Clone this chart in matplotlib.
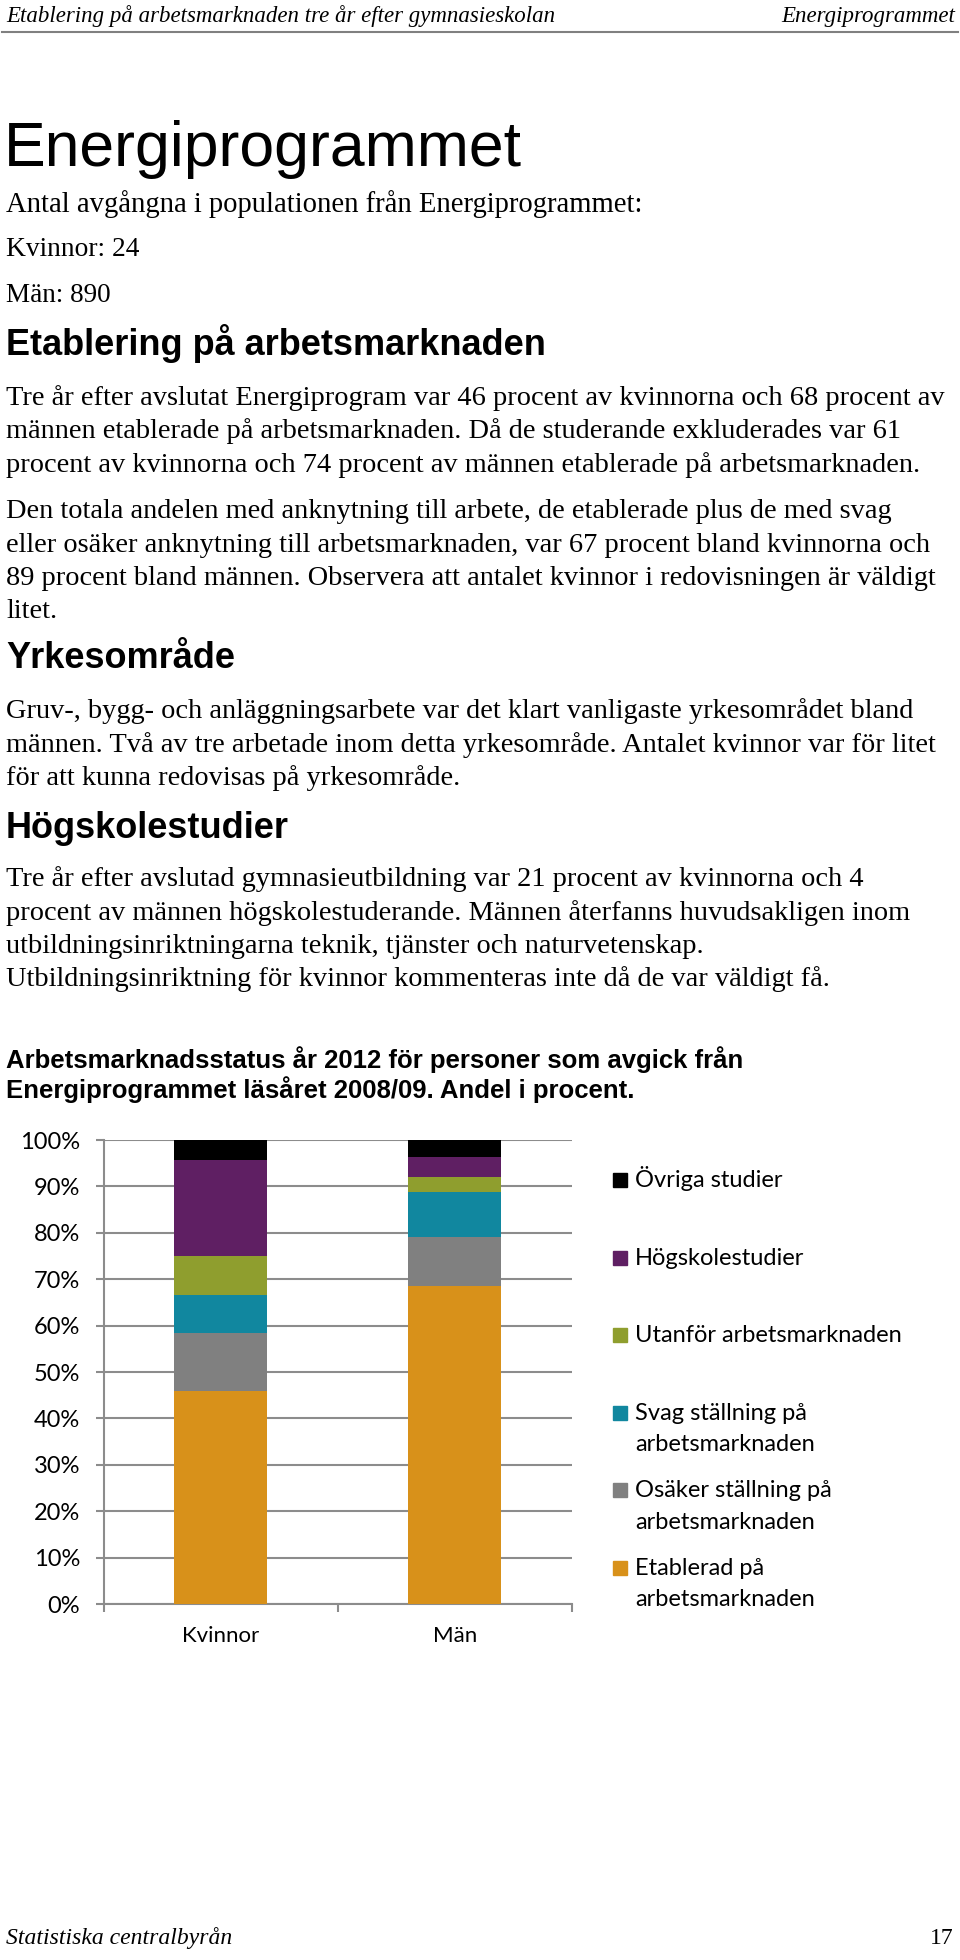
import numpy as np
import matplotlib.pyplot as plt

# data (percent)
categories = ['Kvinnor', 'Män']
series_names = ['Etablerad på\narbetsmarknaden', 'Osäker ställning på\narbetsmarknaden',
                'Svag ställning på\narbetsmarknaden', 'Utanför arbetsmarknaden',
                'Högskolestudier', 'Övriga studier']
colors = ['#D8911A', '#808080', '#11879F', '#8F9E2E', '#5F1F63', '#000000']
etablerad = [45.8, 68.5]
osaker = [12.5, 10.6]
svag = [8.3, 9.7]
utanfor = [8.3, 3.3]
hogskola = [20.8, 4.2]
ovriga = [4.3, 3.7]
yticks = [0, 10, 20, 30, 40, 50, 60, 70, 80, 90, 100]

W, H = 960, 1960
fig = plt.figure(figsize=(9.6, 19.6), dpi=100)
serif = 'Liberation Serif'
sans = 'Liberation Sans'

def txt(x, y, s, **kw):
    kw.setdefault('va', 'baseline')
    return fig.text(x / W, 1 - y / H, s, **kw)

# page header
txt(6, 22, 'Etablering på arbetsmarknaden tre år efter gymnasieskolan', family=serif, style='italic', size=16.5)
txt(955, 22, 'Energiprogrammet', family=serif, style='italic', size=16.5, ha='right')
fig.add_artist(plt.Line2D([2 / W, 958 / W], [1 - 32 / H, 1 - 32 / H], color='#808080', lw=1.5))

txt(4, 166, 'Energiprogrammet', family=sans, size=45)
txt(6, 212, 'Antal avgångna i populationen från Energiprogrammet:', family=serif, size=20.6)
txt(6, 256, 'Kvinnor: 24', family=serif, size=19.8)
txt(6, 302, 'Män: 890', family=serif, size=19.5)

txt(6, 355, 'Etablering på arbetsmarknaden', family=sans, weight='bold', size=26)
body1 = ['Tre år efter avslutat Energiprogram var 46 procent av kvinnorna och 68 procent av',
         'männen etablerade på arbetsmarknaden. Då de studerande exkluderades var 61',
         'procent av kvinnorna och 74 procent av männen etablerade på arbetsmarknaden.']
body2 = ['Den totala andelen med anknytning till arbete, de etablerade plus de med svag',
         'eller osäker anknytning till arbetsmarknaden, var 67 procent bland kvinnorna och',
         '89 procent bland männen. Observera att antalet kvinnor i redovisningen är väldigt',
         'litet.']
body3 = ['Gruv-, bygg- och anläggningsarbete var det klart vanligaste yrkesområdet bland',
         'männen. Två av tre arbetade inom detta yrkesområde. Antalet kvinnor var för litet',
         'för att kunna redovisas på yrkesområde.']
body4 = ['Tre år efter avslutad gymnasieutbildning var 21 procent av kvinnorna och 4',
         'procent av männen högskolestuderande. Männen återfanns huvudsakligen inom',
         'utbildningsinriktningarna teknik, tjänster och naturvetenskap.',
         'Utbildningsinriktning för kvinnor kommenteras inte då de var väldigt få.']

def para(lines, y0, step=33.5):
    for i, line in enumerate(lines):
        txt(6, y0 + i * step, line, family=serif, size=20.4)

para(body1, 405)
para(body2, 518)
txt(6, 668, 'Yrkesområde', family=sans, weight='bold', size=26)
para(body3, 718)
txt(6, 838, 'Högskolestudier', family=sans, weight='bold', size=26)
para(body4, 886)

txt(6, 1068, 'Arbetsmarknadsstatus år 2012 för personer som avgick från', family=sans, weight='bold', size=18.5)
txt(6, 1098, 'Energiprogrammet läsåret 2008/09. Andel i procent.', family=sans, weight='bold', size=18.5)

# chart
cfont = 'Lato'
ax = fig.add_axes([103.6 / W, 1 - 1604 / H, (572 - 103.6) / W, (1604 - 1140) / H])
x = np.arange(len(categories))
stack = [etablerad, osaker, svag, utanfor, hogskola, ovriga]
bottom = np.zeros(len(categories))
for vals, name, c in zip(stack, series_names, colors):
    ax.bar(x, vals, 0.397, bottom=bottom, color=c, label=name, zorder=3)
    bottom += np.array(vals)

ax.set_xlim(-0.5, 1.5)
ax.set_ylim(0, 100)
ax.set_yticks(yticks)
ax.set_yticklabels([f'{t}%' for t in yticks], family=cfont, size=17)
ax.yaxis.grid(True, color='#8C8C8C', lw=1.5, zorder=0)
ax.set_xticks([-0.5, 0.5, 1.5])
ax.set_xticklabels([])
ax.set_xticks(x, minor=True)
ax.set_xticklabels(categories, minor=True, family=cfont, size=16)
ax.tick_params(axis='y', which='major', length=6, width=1.5, color='#8C8C8C', pad=11)
ax.tick_params(axis='x', which='major', length=6, width=1.5, color='#8C8C8C')
ax.tick_params(axis='x', which='minor', length=0, pad=16)
for s in ['top', 'right']:
    ax.spines[s].set_visible(False)
for s in ['left', 'bottom']:
    ax.spines[s].set_color('#8C8C8C')
    ax.spines[s].set_linewidth(1.5)

# legend drawn by hand (top entry first)
row0, row_step = 1180, 77.6
for i, (name, c) in enumerate(zip(series_names[::-1], colors[::-1])):
    yc = row0 + i * row_step
    fig.add_artist(plt.Rectangle((613 / W, 1 - (yc + 7) / H), 14 / W, 14 / H, color=c))
    for j, line in enumerate(name.split('\n')):
        txt(635, yc + 7 + j * 31.5, line, family=cfont, size=17)

# footer
txt(6, 1944, 'Statistiska centralbyrån', family=serif, style='italic', size=17)
txt(954, 1944, '17', family=serif, size=17, ha='right')

fig.savefig('out.png', dpi=100)
